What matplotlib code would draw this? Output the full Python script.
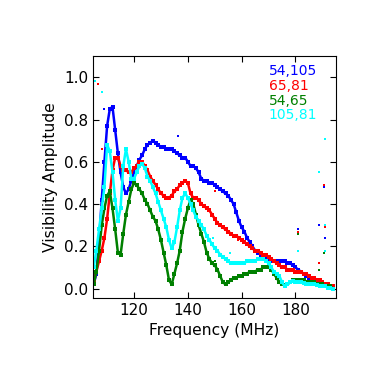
import numpy as np
import matplotlib
matplotlib.use('Agg')
import matplotlib.pyplot as plt

# frequency grid (MHz), 1 MHz steps
freq = np.arange(105, 195)

# 54,105
blue = [0.02, 0.07, 0.22, 0.42, 0.60, 0.77, 0.85, 0.86, 0.75, 0.64,
        0.55, 0.48, 0.45, 0.47, 0.51, 0.55, 0.58, 0.61, 0.63, 0.66,
        0.68, 0.69, 0.70, 0.69, 0.68, 0.67, 0.67, 0.66, 0.66, 0.66,
        0.65, 0.64, 0.63, 0.62, 0.62, 0.60, 0.58, 0.58, 0.57, 0.55,
        0.52, 0.51, 0.51, 0.50, 0.50, 0.49, 0.48, 0.47, 0.46, 0.45,
        0.44, 0.42, 0.40, 0.36, 0.32, 0.29, 0.27, 0.24, 0.22, 0.20,
        0.18, 0.17, 0.16, 0.15, 0.14, 0.14, 0.13, 0.13, 0.13, 0.13,
        0.13, 0.13, 0.12, 0.12, 0.11, 0.10, 0.09, 0.08, 0.07, 0.06,
        0.05, 0.05, 0.04, 0.04, 0.03, 0.03, 0.02, 0.01, 0.01, 0.00]
# 65,81
red = [0.03, 0.08, 0.13, 0.18, 0.24, 0.33, 0.45, 0.56, 0.62, 0.62,
       0.58, 0.56, 0.56, 0.55, 0.55, 0.57, 0.58, 0.60, 0.60, 0.58,
       0.56, 0.53, 0.51, 0.49, 0.47, 0.45, 0.44, 0.43, 0.43, 0.44,
       0.46, 0.47, 0.49, 0.50, 0.51, 0.50, 0.45, 0.43, 0.43, 0.42,
       0.40, 0.39, 0.38, 0.37, 0.35, 0.33, 0.31, 0.30, 0.29, 0.28,
       0.27, 0.26, 0.25, 0.25, 0.24, 0.23, 0.22, 0.21, 0.20, 0.19,
       0.18, 0.18, 0.17, 0.16, 0.16, 0.15, 0.14, 0.13, 0.12, 0.11,
       0.10, 0.10, 0.09, 0.09, 0.09, 0.08, 0.08, 0.08, 0.07, 0.07,
       0.06, 0.05, 0.05, 0.04, 0.04, 0.03, 0.02, 0.02, 0.01, 0.01]
# 54,65
green = [0.02, 0.08, 0.18, 0.30, 0.38, 0.44, 0.46, 0.38, 0.28, 0.17,
         0.16, 0.26, 0.35, 0.41, 0.47, 0.50, 0.49, 0.47, 0.45, 0.42,
         0.40, 0.37, 0.34, 0.32, 0.28, 0.23, 0.17, 0.11, 0.04, 0.02,
         0.07, 0.12, 0.18, 0.27, 0.33, 0.38, 0.42, 0.40, 0.35, 0.30,
         0.26, 0.22, 0.17, 0.14, 0.12, 0.11, 0.09, 0.06, 0.03, 0.02,
         0.03, 0.04, 0.05, 0.05, 0.06, 0.06, 0.07, 0.07, 0.08, 0.08,
         0.08, 0.09, 0.09, 0.10, 0.10, 0.10, 0.09, 0.07, 0.05, 0.03,
         0.02, 0.015, 0.02, 0.03, 0.04, 0.04, 0.04, 0.04, 0.04, 0.03,
         0.03, 0.03, 0.03, 0.02, 0.02, 0.02, 0.01, 0.01, 0.01, 0.00]
# 105,81
cyan = [0.10, 0.18, 0.28, 0.38, 0.48, 0.68, 0.65, 0.55, 0.42, 0.32,
        0.38, 0.58, 0.66, 0.60, 0.52, 0.52, 0.55, 0.58, 0.59, 0.57,
        0.53, 0.51, 0.48, 0.45, 0.41, 0.37, 0.33, 0.29, 0.23, 0.19,
        0.22, 0.29, 0.37, 0.43, 0.45, 0.43, 0.40, 0.37, 0.34, 0.32,
        0.30, 0.28, 0.25, 0.23, 0.21, 0.19, 0.18, 0.16, 0.15, 0.14,
        0.13, 0.12, 0.12, 0.12, 0.12, 0.12, 0.12, 0.13, 0.13, 0.13,
        0.13, 0.14, 0.14, 0.14, 0.13, 0.12, 0.10, 0.08, 0.07, 0.06,
        0.03, 0.01, 0.02, 0.03, 0.035, 0.03, 0.03, 0.03, 0.025, 0.02,
        0.02, 0.02, 0.02, 0.015, 0.01, 0.01, 0.01, 0.005, 0.005, 0.00]

# stray points
blue_xo = [109.0, 136.2, 181.0, 188.8, 190.7, 191.0]
blue_yo = [0.85, 0.72, 0.28, 0.30, 0.48, 0.24]
red_xo = [106.5, 108.1, 150.0, 158.6, 181.0, 188.8, 190.7, 191.0]
red_yo = [0.97, 0.66, 0.46, 0.23, 0.27, 0.12, 0.49, 0.29]
green_xo = [150.0, 181.0, 188.8, 190.7]
green_yo = [0.13, 0.26, 0.09, 0.17]
cyan_xo = [105.6, 108.1, 149.4, 155.7, 181.0, 188.8, 191.0, 191.0, 191.0]
cyan_yo = [0.98, 0.93, 0.24, 0.17, 0.18, 0.55, 0.71, 0.30, 0.18]

labels = ['54,105', '65,81', '54,65', '105,81']
colors = ['#0000ff', '#ff0000', '#008000', '#00ffff']

fig = plt.figure(figsize=(3.74, 3.74), dpi=100)
ax = fig.add_axes([0.249, 0.203, 0.649, 0.647])

series = [(blue, blue_xo, blue_yo), (red, red_xo, red_yo),
          (green, green_xo, green_yo), (cyan, cyan_xo, cyan_yo)]
for (vals, xo, yo), c in zip(series, colors):
    ax.plot(freq, vals, '-', color=c, lw=1.8)
    ax.plot(freq, vals, 's', color=c, ms=2.4, mew=0)
    ax.plot(xo, yo, 's', color=c, ms=2, mew=0)

ax.set_xlim(104.8, 195)
ax.set_ylim(-0.045, 1.1)
ax.set_xticks([120, 140, 160, 180])
ax.set_yticks([0.0, 0.2, 0.4, 0.6, 0.8, 1.0])
ax.tick_params(direction='in', length=4, top=True, right=True, labelsize=11)
ax.set_xlabel('Frequency (MHz)', fontsize=11.2)
ax.set_ylabel('Visibility Amplitude', fontsize=11.2)

ypos = [0.938, 0.876, 0.814, 0.756]
for lab, c, yp in zip(labels, colors, ypos):
    ax.text(0.724, yp, lab, color=c, fontsize=10, transform=ax.transAxes,
            va='center', ha='left')

fig.savefig('out.png', dpi=100)
